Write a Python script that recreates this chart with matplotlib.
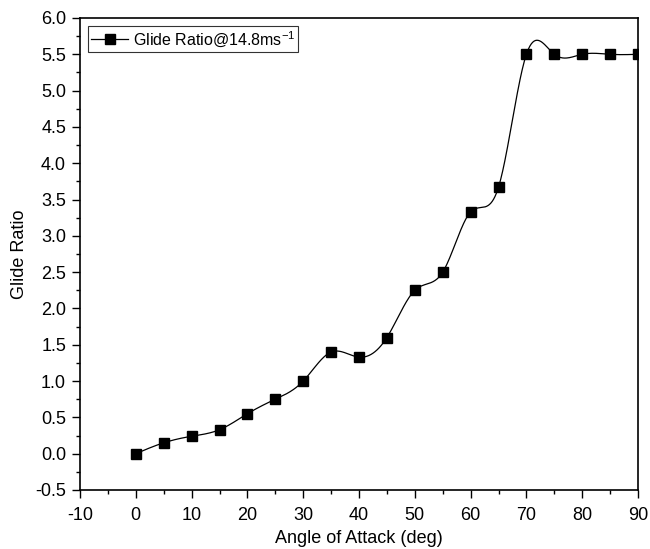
import numpy as np
import matplotlib
matplotlib.use("Agg")
import matplotlib.pyplot as plt
from matplotlib.ticker import MultipleLocator, FormatStrFormatter

angle = [0, 5, 10, 15, 20, 25, 30, 35, 40, 45, 50, 55, 60, 65, 70, 75, 80, 85, 90]
glide = [0.0, 0.15, 0.24, 0.33, 0.55, 0.75, 1.0, 1.4, 1.33, 1.6, 2.25, 2.5, 3.33, 3.67, 5.5, 5.5, 5.5, 5.5, 5.5]


def natural_spline(x, y, n=40):
    x = np.asarray(x, float); y = np.asarray(y, float)
    m = len(x); h = np.diff(x)
    A = np.zeros((m, m)); b = np.zeros(m)
    A[0, 0] = A[-1, -1] = 1
    for i in range(1, m - 1):
        A[i, i - 1] = h[i - 1]; A[i, i] = 2 * (h[i - 1] + h[i]); A[i, i + 1] = h[i]
        b[i] = 3 * ((y[i + 1] - y[i]) / h[i] - (y[i] - y[i - 1]) / h[i - 1])
    c = np.linalg.solve(A, b)
    xs, ys = [], []
    for i in range(m - 1):
        bb = (y[i + 1] - y[i]) / h[i] - h[i] * (2 * c[i] + c[i + 1]) / 3
        d = (c[i + 1] - c[i]) / (3 * h[i])
        t = np.linspace(0, h[i], n, endpoint=False)
        xs.append(x[i] + t)
        ys.append(y[i] + bb * t + c[i] * t**2 + d * t**3)
    xs.append([x[-1]]); ys.append([y[-1]])
    return np.concatenate(xs), np.concatenate(ys)


plt.rcParams['font.family'] = ['Liberation Sans', 'DejaVu Sans']
plt.rcParams['axes.unicode_minus'] = False
plt.rcParams['mathtext.fontset'] = 'custom'
plt.rcParams['mathtext.rm'] = 'Liberation Sans'
fig = plt.figure(figsize=(6.5, 5.49), dpi=100)
ax = fig.add_axes([80 / 650, 1 - 490 / 549, 558 / 650, 472 / 549])

sx, sy = natural_spline(angle, glide)
ax.plot(sx, sy, color='black', lw=0.9, zorder=2)
ax.plot(angle, glide, 's', color='black', ms=7, zorder=3)
ax.plot([], [], '-s', color='black', ms=7, lw=0.9, label='Glide Ratio@14.8ms$^{\\mathrm{-1}}$')

ax.set_xlim(-10, 90)
ax.set_ylim(-0.5, 6.0)
ax.xaxis.set_major_locator(MultipleLocator(10))
ax.xaxis.set_minor_locator(MultipleLocator(5))
ax.yaxis.set_major_locator(MultipleLocator(0.5))
ax.yaxis.set_minor_locator(MultipleLocator(0.25))
ax.yaxis.set_major_formatter(FormatStrFormatter('%.1f'))
ax.tick_params(which='both', direction='out', top=False, right=False, labelsize=13)
ax.tick_params(which='major', length=6, width=1, pad=4)
ax.tick_params(which='minor', length=3, width=1)
ax.tick_params(axis='x', which='major', pad=6.5)
for s in ax.spines.values():
    s.set_linewidth(1.2)
ax.set_xlabel('Angle of Attack (deg)', fontsize=13, labelpad=4)
ax.set_ylabel('Glide Ratio', fontsize=13, labelpad=5)

leg = ax.legend(loc='upper left', fontsize=11.5, frameon=True, fancybox=False,
                edgecolor='black', handlelength=2.3, borderpad=0.2,
                handletextpad=0.3, borderaxespad=0.5)
leg.get_frame().set_linewidth(0.8)

fig.savefig('out.png', dpi=100)
